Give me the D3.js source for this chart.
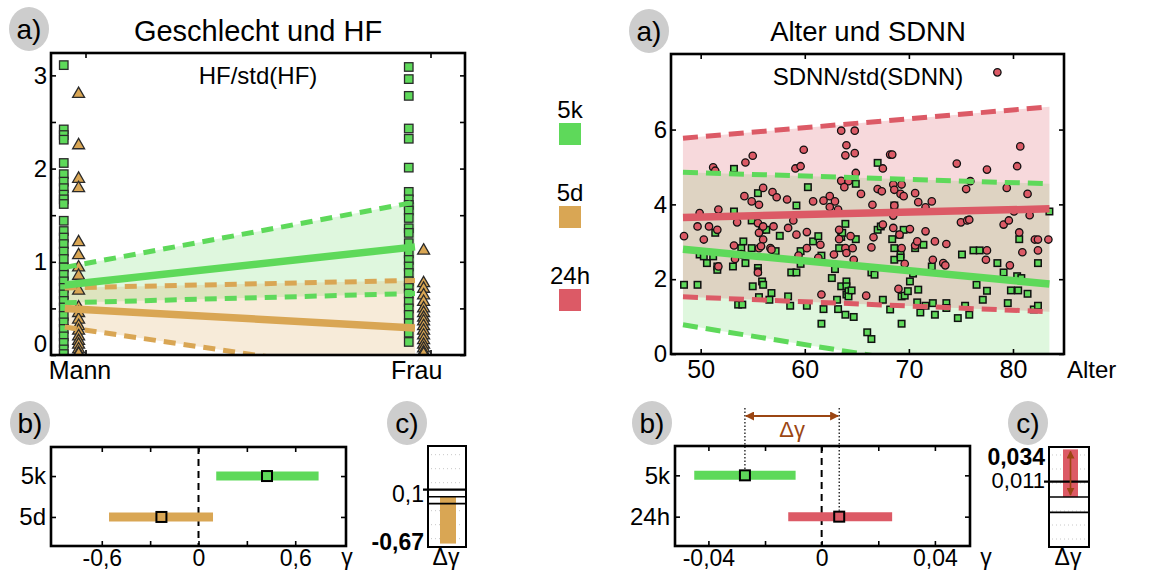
<!DOCTYPE html>
<html><head><meta charset="utf-8">
<script src="https://cdn.jsdelivr.net/npm/d3@7"></script>
<style>body{margin:0;background:#fff}</style>
</head><body><svg id="c" width="1149" height="574"></svg>
<script>
// ---------------- DATA ----------------
const sexCats = ["Mann", "Frau"];
const hf5kMann = [3.11,2.42,2.36,2.31,2.06,1.94,1.86,1.79,1.72,1.67,1.62,1.44,1.33,1.26,1.19,1.11,1.03,0.94,0.86,0.79,0.72,0.65,0.58,0.51,0.42,0.35,0.28,0.20,0.13,0.06,0.01];
const hf5dMann = [2.80,2.25,1.89,1.79,1.21,1.07,0.94,0.85,0.69,0.51,0.45,0.38,0.31,0.26,0.20,0.15,0.11,0.06,0.02,0.01];
const hf5kFrau = [3.09,2.96,2.78,2.43,2.32,2.01,1.75,1.67,1.61,1.55,1.47,1.36,1.31,1.20,1.09,1.02,0.95,0.88,0.79,0.72,0.66,0.57,0.50,0.43,0.34,0.24,0.14];
const hf5dFrau = [1.12,0.77,0.71,0.64,0.57,0.50,0.45,0.40,0.36,0.31,0.26,0.21,0.16,0.11,0.07,0.03,0.01];
const hfFitX = [-0.06, 0.955];           // fit drawn from Mann column to Frau column
const hfFit5k = [0.75, 1.16], hfLo5k = [0.56, 0.66], hfHi5k = [0.94, 1.64];
const hfFit5d = [0.50, 0.29], hfLo5d = [0.30, -0.25], hfHi5d = [0.72, 0.80];
const hfYTicks = [0, 0.5, 1, 1.5, 2, 2.5, 3];
const hfYLabels = [0, 1, 2, 3];

const legendNames = ["5k", "5d", "24h"];

const ageFitX = [48.3, 83.5];
const sdnnFit5k = [2.80, 1.87], sdnnLo5k = [0.78, -0.81], sdnnHi5k = [4.86, 4.55];
const sdnnFit24h = [3.65, 3.88], sdnnLo24h = [1.53, 1.13], sdnnHi24h = [5.77, 6.61];
const ageTicks = [50, 60, 70, 80];
const sdnnTicks = [0, 2, 4, 6];
const sdnn24h = [[78.5,7.53],[63.5,5.97],[64.8,5.97],[64.0,5.58],[63.9,5.31],[64.8,5.37],[59.9,5.46],[55.0,5.30],[54.3,5.12],[51.2,4.99],[51.4,4.90],[59.1,4.96],[59.6,5.02],[68.2,5.33],[68.4,5.33],[67.5,4.96],[64.9,4.84],[74.6,5.09],[77.5,4.93],[80.4,5.02],[80.7,5.55],[63.5,4.63],[64.2,4.62],[63.8,4.46],[68.5,4.53],[69.3,4.53],[75.9,4.62],[75.5,4.41],[79.4,4.44],[54.2,4.22],[54.9,4.08],[55.6,3.99],[56.0,4.44],[56.9,4.33],[57.3,4.19],[58.3,4.13],[60.8,4.08],[61.8,4.10],[62.4,4.22],[62.9,4.08],[62.4,3.93],[63.2,3.86],[65.4,4.28],[66.5,3.99],[67.0,4.41],[67.4,4.35],[68.6,4.39],[69.2,4.28],[69.5,4.22],[70.6,4.30],[70.9,4.06],[71.6,3.92],[72.2,4.08],[68.6,3.97],[80.1,3.81],[81.6,3.71],[81.4,4.28],[51.7,3.86],[49.9,3.77],[48.4,3.15],[49.7,3.41],[50.3,3.06],[50.8,3.41],[51.6,3.32],[53.5,3.52],[53.2,2.90],[53.3,2.54],[53.9,2.67],[54.0,2.66],[55.5,3.50],[55.6,3.24],[56.0,3.41],[56.0,3.06],[55.6,2.83],[55.8,2.88],[56.7,2.83],[57.0,3.41],[58.4,3.37],[58.9,3.57],[59.2,3.19],[59.4,2.63],[60.2,3.26],[60.2,2.83],[61.3,2.57],[61.5,2.92],[62.8,2.66],[63.3,3.32],[63.3,3.07],[63.9,2.83],[64.0,2.70],[64.4,3.15],[64.6,2.83],[64.7,2.52],[66.4,2.85],[66.6,3.12],[67.5,3.46],[68.5,3.37],[68.5,3.70],[69.1,3.19],[69.3,2.83],[69.6,2.41],[70.1,3.34],[70.6,2.90],[70.8,3.01],[71.6,3.28],[72.5,3.01],[72.3,2.52],[73.3,2.43],[73.5,2.37],[73.6,2.94],[75.0,3.52],[75.6,3.57],[75.8,3.59],[77.4,2.52],[77.5,2.77],[79.1,3.46],[79.6,3.57],[79.7,2.37],[80.6,3.25],[80.9,2.72],[82.1,3.06],[82.4,3.06],[82.4,2.77],[83.4,3.06],[61.6,1.59],[65.9,1.56],[69.0,1.74],[55.5,2.18],[51.7,2.34],[56.8,2.79]];
const sdnn5k = [[53.2,4.95],[67.0,5.11],[64.9,4.55],[60.3,4.46],[55.5,4.30],[59.2,3.97],[53.2,3.81],[51.4,3.24],[54.9,3.57],[55.9,3.32],[56.3,3.32],[54.1,3.01],[53.9,2.83],[54.9,2.83],[49.9,2.66],[50.3,2.61],[50.6,2.43],[51.2,2.61],[51.6,2.34],[51.6,2.25],[53.1,2.34],[54.3,2.43],[55.5,2.30],[55.5,2.21],[55.9,1.94],[56.0,1.85],[55.0,1.81],[48.4,1.85],[49.7,1.85],[53.6,1.32],[54.0,1.32],[55.6,1.52],[56.8,1.63],[56.6,1.45],[57.2,2.75],[57.6,3.16],[58.7,2.18],[59.2,2.18],[58.4,1.54],[58.6,1.29],[59.6,2.41],[59.6,2.75],[60.2,1.29],[60.8,3.01],[61.3,3.15],[61.6,2.63],[61.8,1.20],[61.6,0.81],[62.6,2.03],[62.9,2.27],[63.1,1.45],[63.2,1.20],[63.5,1.81],[63.3,2.83],[63.5,3.13],[63.6,3.24],[63.9,3.48],[64.0,1.94],[64.0,1.81],[64.0,1.59],[63.9,1.05],[64.2,1.68],[64.2,1.54],[64.5,1.70],[64.7,0.99],[64.9,3.07],[66.0,0.58],[66.4,0.40],[66.4,2.18],[66.7,2.12],[67.0,3.32],[67.3,3.41],[67.5,1.45],[68.2,1.19],[68.4,3.07],[68.6,3.97],[68.6,2.83],[68.6,2.52],[69.1,3.19],[69.2,2.66],[69.2,2.58],[69.5,3.32],[69.3,1.54],[69.6,1.56],[69.9,1.68],[69.3,0.81],[70.1,1.94],[70.4,2.15],[70.6,2.83],[70.8,1.38],[70.9,1.72],[71.1,1.11],[71.4,2.92],[71.6,1.29],[72.2,2.34],[72.3,1.36],[72.5,1.05],[73.6,1.36],[73.6,1.23],[74.7,0.96],[75.1,2.66],[75.4,1.29],[75.8,1.05],[76.2,2.77],[76.8,2.77],[76.5,1.85],[77.1,1.45],[77.5,1.69],[78.5,2.43],[79.1,2.18],[79.5,1.36],[79.8,1.70],[80.5,1.70],[80.4,2.08],[80.8,2.03],[80.6,3.07],[81.4,1.61],[82.0,1.19],[82.4,1.29],[82.4,2.43],[83.5,3.81]];

const gLeftCats = ["5k", "5d"];
const gLeftEst = [0.425, -0.23], gLeftLo = [0.11, -0.555], gLeftHi = [0.745, 0.09];
const gLeftTicks = [-0.6, -0.3, 0, 0.3, 0.6], gLeftLabels = [-0.6, 0, 0.6];
const gRightCats = ["5k", "24h"];
const gRightEst = [-0.0271, 0.0062], gRightLo = [-0.045, -0.0118], gRightHi = [-0.0092, 0.0249];
const gRightTicks = [-0.04, -0.02, 0, 0.02, 0.04], gRightLabels = [-0.04, 0, 0.04];
const dLeftValue = -0.67, dLeftThresh = [0.1, 0, -0.1], dLeftGrid = [0.6, 0.4, 0.2, -0.2, -0.4, -0.6];
const dRightValue = 0.034, dRightThresh = [0.011, 0, -0.011], dRightGrid = [0.03, 0.02, 0.01, -0.01, -0.02, -0.03];

// ---------------- STYLE ----------------
const FONT = '"Liberation Sans", Arial, Helvetica, sans-serif';
const GREEN = "#5ed95a", ORANGE = "#d9a654", RED = "#dc5a66", BROWN = "#9b4613";
const colorOf = {"5k": GREEN, "5d": ORANGE, "24h": RED};
const loc = d3.formatLocale({decimal: ",", thousands: ".", grouping: [3], currency: ["", "€"], minus: "-"});
const numFmt = spec => { const f = loc.format(spec); return d => (d === 0 ? "0" : f(d)); };

const svg = d3.select("#c");
svg.append("rect").attr("width", 1149).attr("height", 574).attr("fill", "#fff");
const defs = svg.append("defs");

function txt(x, y, s, size, anchor = "middle", weight = "normal", fill = "#000") {
  return svg.append("text").attr("x", x).attr("y", y).attr("text-anchor", anchor)
    .attr("font-family", FONT).attr("font-size", size).attr("font-weight", weight)
    .attr("fill", fill).text(s);
}
function badge(cx, cy, s) {
  svg.append("ellipse").attr("cx", cx).attr("cy", cy).attr("rx", 20).attr("ry", 22).attr("fill", "#cdcdcd");
  txt(cx, cy + 10, s, 28);
}
function axisG(gen, tr, fs) {
  const g = svg.append("g").attr("transform", tr).call(gen);
  g.select(".domain").remove();
  g.attr("font-family", FONT).attr("font-size", fs || 22);
  g.selectAll("line").attr("stroke", "#000").attr("stroke-width", 1.6);
  g.selectAll("text").attr("fill", "#000");
  return g;
}
function clip(id, b) {
  defs.append("clipPath").attr("id", id).append("rect")
    .attr("x", b.l).attr("y", b.t).attr("width", b.r - b.l).attr("height", b.b - b.t);
}
function frame(b, w) {
  svg.append("rect").attr("x", b.l).attr("y", b.t).attr("width", b.r - b.l).attr("height", b.b - b.t)
    .attr("fill", "none").attr("stroke", "#000").attr("stroke-width", w || 2.6);
}
const pairs = (xs, ys) => xs.map((x, i) => [x, ys[i]]);

// ================= Panel a) left =================
const A1 = {l: 51, r: 465, t: 53, b: 355};
const xA = d3.scaleLinear().domain([-0.1, 1.1]).range([A1.l, A1.r]);
const yA = d3.scaleLinear().domain([0, 3.24]).range([A1.b, A1.t]);
clip("clipA1", A1);
const gA1 = svg.append("g").attr("clip-path", "url(#clipA1)");
const areaA = d3.area().x(d => xA(d[0])).y0(d => yA(d[1])).y1(d => yA(d[2]));
const lineA = d3.line().x(d => xA(d[0])).y(d => yA(d[1]));
gA1.append("path").datum(hfFitX.map((x, i) => [x, hfLo5k[i], hfHi5k[i]])).attr("d", areaA).attr("fill", GREEN).attr("fill-opacity", 0.2);
gA1.append("path").datum(hfFitX.map((x, i) => [x, hfLo5d[i], hfHi5d[i]])).attr("d", areaA).attr("fill", ORANGE).attr("fill-opacity", 0.22);

const sqA = 8.5;
[[hf5kMann, 0], [hf5kFrau, 1]].forEach(([vals, c]) => {
  gA1.selectAll(null).data(vals).enter().append("rect")
    .attr("x", xA(c - 0.063) - sqA / 2).attr("y", d => yA(d) - sqA / 2)
    .attr("width", sqA).attr("height", sqA).attr("fill", GREEN).attr("stroke", "#2a2a2a").attr("stroke-width", 1.3);
});
const tri = d3.symbol().type(d3.symbolTriangle).size(62);
[[hf5dMann, 0], [hf5dFrau, 1]].forEach(([vals, c]) => {
  gA1.selectAll(null).data(vals).enter().append("path")
    .attr("d", tri).attr("transform", d => `translate(${xA(c - 0.02)},${yA(d)})`)
    .attr("fill", ORANGE).attr("stroke", "#2a2a2a").attr("stroke-width", 1.3);
});
[[hfHi5k, GREEN, true], [hfLo5k, GREEN, true], [hfHi5d, ORANGE, true], [hfLo5d, ORANGE, true],
 [hfFit5k, GREEN, false], [hfFit5d, ORANGE, false]].forEach(([v, col, dash]) => {
  gA1.append("path").datum(pairs(hfFitX, v)).attr("d", lineA).attr("fill", "none")
    .attr("stroke", col).attr("stroke-width", dash ? 5 : 7.5)
    .attr("stroke-dasharray", dash ? "12,8" : null);
});
axisG(d3.axisLeft(yA).tickValues(hfYTicks).tickSizeInner(-5).tickSizeOuter(0).tickFormat(""), `translate(${A1.l},0)`);
axisG(d3.axisRight(yA).tickValues(hfYTicks).tickSizeInner(-5).tickSizeOuter(0).tickFormat(""), `translate(${A1.r},0)`);
axisG(d3.axisBottom(xA).tickValues([0, 1]).tickSizeInner(-5).tickSizeOuter(0).tickFormat(""), `translate(0,${A1.b})`);
axisG(d3.axisTop(xA).tickValues([0, 1]).tickSizeInner(-5).tickSizeOuter(0).tickFormat(""), `translate(0,${A1.t})`);
const yLabA = axisG(d3.axisLeft(yA).tickValues(hfYLabels).tickSize(0).tickPadding(4).tickFormat(loc.format("d")), `translate(${A1.l},0)`, 24);
yLabA.selectAll("text").filter(d => d === 0).attr("dy", "-0.15em");
sexCats.forEach((c, i) => txt(xA(i === 0 ? -0.016 : 0.96), 379, c, 25));
frame(A1);
txt(258, 41, "Geschlecht und HF", 29);
txt(258, 84, "HF/std(HF)", 24);
badge(29, 29, "a)");

// ================= Legend =================
const yLeg = d3.scalePoint().domain(legendNames).range([134, 300]);
legendNames.forEach(n => {
  svg.append("rect").attr("x", 559).attr("y", yLeg(n) - 11).attr("width", 22).attr("height", 22).attr("fill", colorOf[n]);
  txt(570, yLeg(n) - 16, n, 24);
});

// ================= Panel a) right =================
const A2 = {l: 671, r: 1064, t: 54, b: 354};
const xB = d3.scaleLinear().domain([47.15, 84.9]).range([A2.l, A2.r]);
const yB = d3.scaleLinear().domain([0, 8.02]).range([A2.b, A2.t]);
clip("clipA2", A2);
const gA2 = svg.append("g").attr("clip-path", "url(#clipA2)");
const areaB = d3.area().x(d => xB(d[0])).y0(d => yB(d[1])).y1(d => yB(d[2]));
const lineB = d3.line().x(d => xB(d[0])).y(d => yB(d[1]));
gA2.append("path").datum(ageFitX.map((x, i) => [x, sdnnLo5k[i], sdnnHi5k[i]])).attr("d", areaB).attr("fill", GREEN).attr("fill-opacity", 0.2);
gA2.append("path").datum(ageFitX.map((x, i) => [x, sdnnLo24h[i], sdnnHi24h[i]])).attr("d", areaB).attr("fill", RED).attr("fill-opacity", 0.23);
const sqB = 6.5;
gA2.selectAll(null).data(sdnn5k).enter().append("rect")
  .attr("x", d => xB(d[0]) - sqB / 2).attr("y", d => yB(d[1]) - sqB / 2).attr("width", sqB).attr("height", sqB)
  .attr("fill", GREEN).attr("stroke", "#111").attr("stroke-width", 1.5);
gA2.selectAll(null).data(sdnn24h).enter().append("circle")
  .attr("cx", d => xB(d[0])).attr("cy", d => yB(d[1])).attr("r", 3.7)
  .attr("fill", RED).attr("stroke", "#111").attr("stroke-width", 1.3);
[[sdnnHi24h, RED, true], [sdnnLo24h, RED, true], [sdnnHi5k, GREEN, true], [sdnnLo5k, GREEN, true],
 [sdnnFit24h, RED, false], [sdnnFit5k, GREEN, false]].forEach(([v, col, dash]) => {
  gA2.append("path").datum(pairs(ageFitX, v)).attr("d", lineB).attr("fill", "none")
    .attr("stroke", col).attr("stroke-width", dash ? 5 : 7.5)
    .attr("stroke-dasharray", dash ? "15,8" : null);
});
axisG(d3.axisLeft(yB).tickValues(sdnnTicks).tickSizeInner(-5).tickSizeOuter(0).tickFormat(""), `translate(${A2.l},0)`);
axisG(d3.axisRight(yB).tickValues(sdnnTicks).tickSizeInner(-5).tickSizeOuter(0).tickFormat(""), `translate(${A2.r},0)`);
axisG(d3.axisBottom(xB).tickValues(ageTicks).tickSizeInner(-5).tickSizeOuter(0).tickFormat(""), `translate(0,${A2.b})`);
axisG(d3.axisTop(xB).tickValues(ageTicks).tickSizeInner(-5).tickSizeOuter(0).tickFormat(""), `translate(0,${A2.t})`);
axisG(d3.axisLeft(yB).tickValues(sdnnTicks).tickSize(0).tickPadding(4).tickFormat(loc.format("d")), `translate(${A2.l},0)`, 24);
axisG(d3.axisBottom(xB).tickValues(ageTicks).tickSize(0).tickPadding(6).tickFormat(loc.format("d")), `translate(0,${A2.b})`, 25);
txt(1067, 378, "Alter", 24, "start");
frame(A2);
txt(868, 41, "Alter und SDNN", 27.5);
txt(868, 85, "SDNN/std(SDNN)", 24);
badge(649, 31, "a)");

// ================= Panels b) =================
function forest(B, cats, est, lo, hi, ticks, labels, fmt, gammaX) {
  const x = d3.scaleLinear().domain(B.dom).range([B.l, B.r]);
  const y = d3.scalePoint().domain(cats).range([B.t, B.b]).padding(0.71);
  axisG(d3.axisBottom(x).tickValues(ticks).tickSizeInner(-5).tickSizeOuter(0).tickFormat(""), `translate(0,${B.b})`);
  axisG(d3.axisTop(x).tickValues(ticks).tickSizeInner(-5).tickSizeOuter(0).tickFormat(""), `translate(0,${B.t})`);
  axisG(d3.axisLeft(y).tickSizeInner(-5).tickSizeOuter(0).tickFormat(""), `translate(${B.l},0)`);
  axisG(d3.axisRight(y).tickSizeInner(-5).tickSizeOuter(0).tickFormat(""), `translate(${B.r},0)`);
  axisG(d3.axisLeft(y).tickSize(0).tickPadding(5), `translate(${B.l},0)`, 24);
  axisG(d3.axisBottom(x).tickValues(labels).tickSize(0).tickPadding(4).tickFormat(fmt), `translate(0,${B.b})`, 23);
  svg.append("line").attr("x1", x(0)).attr("x2", x(0)).attr("y1", B.t).attr("y2", B.b)
    .attr("stroke", "#000").attr("stroke-width", 2).attr("stroke-dasharray", "7,5");
  cats.forEach((c, i) => {
    svg.append("line").attr("x1", x(lo[i])).attr("x2", x(hi[i])).attr("y1", y(c)).attr("y2", y(c))
      .attr("stroke", colorOf[c]).attr("stroke-width", 9);
  });
  cats.forEach((c, i) => {
    svg.append("rect").attr("x", x(est[i]) - 5).attr("y", y(c) - 5).attr("width", 10).attr("height", 10)
      .attr("fill", colorOf[c]).attr("stroke", "#000").attr("stroke-width", 2);
  });
  frame(B);
  txt(gammaX, 565, "γ", 23);
  return {x, y};
}
const B1 = {l: 51, r: 346, t: 447, b: 546, dom: [-0.915, 0.915]};
forest(B1, gLeftCats, gLeftEst, gLeftLo, gLeftHi, gLeftTicks, gLeftLabels, numFmt(".1f"), 347);
badge(30, 423, "b)");

const B2 = {l: 675, r: 970, t: 446, b: 546, dom: [-0.0518, 0.0524]};
const fb = forest(B2, gRightCats, gRightEst, gRightLo, gRightHi, gRightTicks, gRightLabels, numFmt(".2f"), 986);
badge(652, 423, "b)");
// Δγ annotation
defs.append("marker").attr("id", "ah").attr("viewBox", "0 0 10 10").attr("refX", 9).attr("refY", 5)
  .attr("markerWidth", 5).attr("markerHeight", 5).attr("orient", "auto-start-reverse")
  .append("path").attr("d", "M0,0 L10,5 L0,10 Z").attr("fill", BROWN);
gRightCats.forEach((c, i) => {
  svg.append("line").attr("x1", fb.x(gRightEst[i])).attr("x2", fb.x(gRightEst[i])).attr("y1", 408).attr("y2", fb.y(c) - 6)
    .attr("stroke", "#000").attr("stroke-width", 1.2).attr("stroke-dasharray", "1.5,2");
});
svg.append("line").attr("x1", fb.x(gRightEst[0]) + 1).attr("x2", fb.x(gRightEst[1]) - 1).attr("y1", 416).attr("y2", 416)
  .attr("stroke", BROWN).attr("stroke-width", 1.8).attr("marker-start", "url(#ah)").attr("marker-end", "url(#ah)");
txt((fb.x(gRightEst[0]) + fb.x(gRightEst[1])) / 2, 437, "Δγ", 22, "middle", "normal", BROWN);

// ================= Panels c) =================
function deltaBox(C, value, thresh, grid, bar) {
  const y = d3.scaleLinear().domain(C.dom).range([C.b, C.t]);
  grid.forEach(g => svg.append("line").attr("x1", C.l + 3).attr("x2", C.r - 3).attr("y1", y(g)).attr("y2", y(g))
    .attr("stroke", "#c8c8c8").attr("stroke-width", 1).attr("stroke-dasharray", "1,3"));
  svg.append("rect").attr("x", bar[0]).attr("y", Math.min(y(0), y(value))).attr("width", bar[1] - bar[0])
    .attr("height", Math.abs(y(value) - y(0))).attr("fill", C.color);
  thresh.forEach((t, i) => svg.append("line").attr("x1", i === 0 ? C.l - 5 : C.l).attr("x2", C.r).attr("y1", y(t)).attr("y2", y(t))
    .attr("stroke", "#000").attr("stroke-width", i === 0 ? 2.2 : 1.6));
  frame(C, 2);
  return y;
}
const C1 = {l: 428, r: 466, t: 446, b: 547, dom: [-0.719, 0.724], color: ORANGE};
deltaBox(C1, dLeftValue, dLeftThresh, dLeftGrid, [440, 456]);
txt(424, 502, loc.format(".1f")(dLeftThresh[0]), 23, "end");
txt(424, 550, loc.format(".2f")(dLeftValue), 23, "end", "bold");
txt(446, 565, "Δγ", 23);
badge(407, 423, "c)");

const C2 = {l: 1049, r: 1089, t: 447, b: 547, dom: [-0.0357, 0.0357], color: RED};
const yC2 = deltaBox(C2, dRightValue, dRightThresh, dRightGrid, [1063, 1078]);
svg.append("line").attr("x1", 1070.5).attr("x2", 1070.5).attr("y1", yC2(dRightValue) + 2).attr("y2", yC2(0) - 2)
  .attr("stroke", BROWN).attr("stroke-width", 1.6).attr("marker-start", "url(#ah)").attr("marker-end", "url(#ah)");
txt(1045, 465, loc.format(".3f")(dRightValue), 23, "end", "bold");
txt(1045, 488, loc.format(".3f")(dRightThresh[0]), 22, "end");
txt(1068, 565, "Δγ", 23);
badge(1028, 423, "c)");
</script></body></html>
